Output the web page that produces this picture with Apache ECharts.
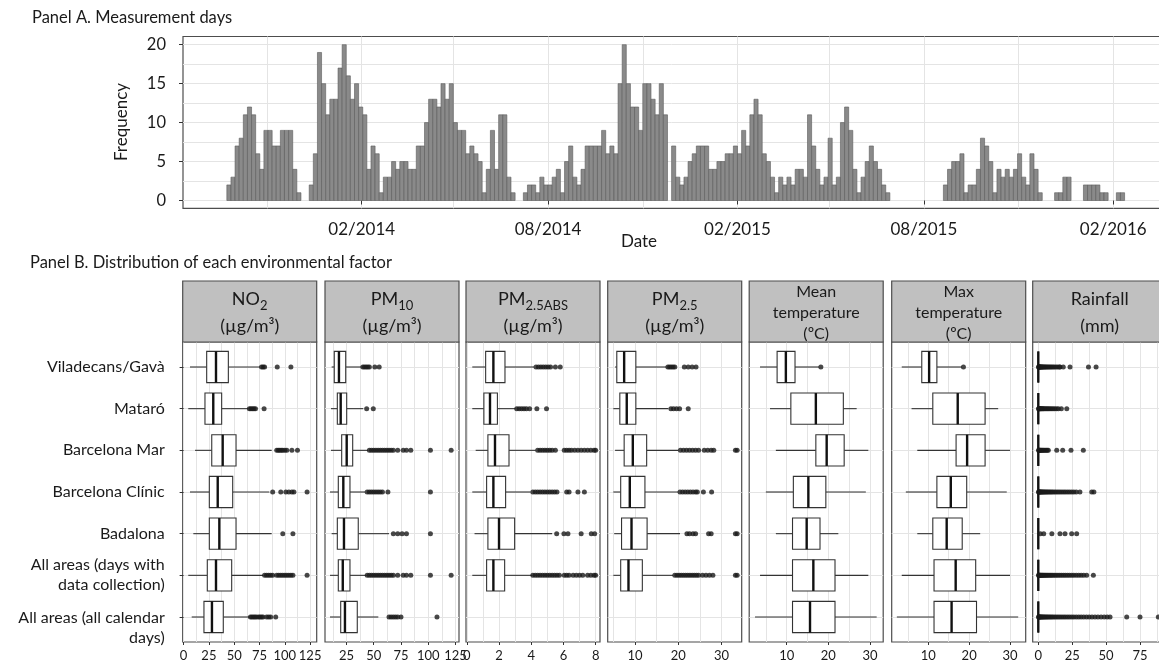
<!DOCTYPE html>
<html><head><meta charset="utf-8">
<script src="https://cdn.jsdelivr.net/npm/echarts@6/dist/echarts.min.js"></script>
<style>html,body{margin:0;padding:0;background:#fff}#c{width:1159px;height:665px}</style>
</head><body><div id="c"></div>
<script>
const FONT = 'Lato';
// ---------------- Panel A data ----------------
const histStart = Date.UTC(2013, 8, 23);
const histBinDays = 4;
const histCounts = [
 2,3,7,8,11,12,11,6,4,9,
 9,7,7,9,9,9,4,1,0,0,
 2,6,19,15,11,13,13,17,20,16,
 13,15,12,11,4,7,6,1,3,3,
 5,4,5,5,4,4,7,7,10,13,
 13,12,15,13,15,10,9,9,6,7,
 6,5,1,4,9,4,11,11,3,1,
 0,0,1,2,2,1,3,2,2,3,
 4,1,5,7,3,2,4,7,7,7,
 7,9,6,7,6,15,20,15,12,12,
 9,15,15,13,11,15,11,0,7,3,
 2,3,5,6,7,7,7,4,4,5,
 5,6,6,7,6,9,7,11,13,11,
 6,5,3,1,3,2,3,2,4,4,
 3,11,7,4,2,3,8,2,3,10,
 12,9,4,1,3,5,7,5,4,2,
 1,0,0,0,0,0,0,0,0,0,
 0,0,0,0,2,4,5,5,6,1,
 2,2,4,8,7,5,1,4,3,4,
 3,4,6,3,2,6,4,1,0,0,
 0,1,1,3,3,0,0,0,2,2,
 2,2,1,1,0,0,1,1
];
const dateTicks = ['2014-02-01','2014-08-01','2015-02-01','2015-08-01','2016-02-01'];
const dateLines = ['2013-11-01','2014-02-01','2014-05-01','2014-08-01','2014-11-01','2015-02-01','2015-05-01','2015-08-01','2015-11-01','2016-02-01'];
const freqTicks = [0,5,10,15,20];
const freqLines = [0,2.5,5,7.5,10,12.5,15,17.5,20];

// ---------------- Panel B data ----------------
const areas = ['Viladecans/Gavà','Mataró','Barcelona Mar','Barcelona Clínic','Badalona','All areas (days with\ndata collection)','All areas (all calendar\ndays)'];
// each row: [lowerWhisker, Q1, median, Q3, upperWhisker]
const no2Stats = [[6.3,22.8,32,44.2,75.5],[4.6,21.1,29.3,37.6,63.9],[11.3,27.8,38.6,51.8,87],[6.3,25.4,33.7,48.5,84.7],[9.6,25.4,35.3,51.8,87],[4.6,23.4,32,47.5,78.8],[8,20.1,28,39.2,65.6]];
const no2Out = [[77,78.5,80,92.5,106],[65,66.5,68,69.5,71,79.5],[92,93.5,95,96.5,98,100,102,107,112.5],[88,96,101,104,107,109,122],[98,108],[80,82,84,86,88,92,94,96,98,100,102,104,106,108,122],[66,67.5,69,70.5,72,74,75.5,77,78.5,82,84,86,91]];
const pm10Stats = [[11.4,13.8,18.1,24.3,39],[10.8,16.6,19.7,25.2,40.4],[10.8,20.6,25.2,30.7,45],[9.9,17.5,22.1,28.2,42],[11.4,16.6,22.7,35.8,64],[9.9,17.5,21.6,28.2,43.5],[9.9,19.7,23.6,34.9,54.2]];
const pm10Out = [[40,41.5,43,44.5,46,51,55],[43.5,49.6],[46,48,50,52,54,56,58,60,62,64,66,68,72,77,80,84,102,121],[44,46,48,50,52,54,56,58,63,102],[68,72,76,80,102],[44,46,48,50,52,54,56,58,60,62,64,66,68,72,77,80,84,102,121],[64,66,68,70,72,75,108]];
const absStats = [[0.34,1.17,1.65,2.37,4.17],[0.34,1.06,1.44,1.9,3.03],[0.55,1.31,1.75,2.62,4.27],[0.34,1.23,1.65,2.41,3.96],[0.48,1.31,2.0,2.97,5.3],[0.34,1.23,1.65,2.35,4.07],null];
const absOut = [[4.3,4.45,4.6,4.75,4.9,5.05,5.2,5.5,5.8],[3.1,3.25,3.4,3.55,3.7,3.9,4.35,4.95],[4.4,4.55,4.7,4.85,5.0,5.15,5.3,5.5,6.05,6.2,6.35,6.5,6.7,6.9,7.1,7.3,7.5,7.7,7.9,8.0],[4.1,4.25,4.4,4.55,4.7,4.85,5.0,5.15,5.3,5.45,5.6,6.2,6.35,6.9,7.3],[5.58,6.03,6.28,7.1,7.73,7.94],[4.1,4.25,4.4,4.55,4.7,4.85,5.0,5.15,5.3,5.45,5.6,5.75,6.05,6.2,6.35,6.6,6.8,7.0,7.2,7.5,7.7,7.9,8.0],[]];
const pm25Stats = [[5.4,5.8,7.5,10.2,17.3],[5,6.5,8.1,10.2,17.7],[5.4,7.5,9.5,12.7,20],[5,6.7,8.8,12.3,20],[5.2,6.9,9.2,12.8,20.4],[5,6.7,8.5,11.7,18.8],null];
const pm25Out = [[17.6,18,18.4,18.8,19.2,21.4,22.3,23.2,24.1],[18.3,18.9,19.6,20.3,22.3],[20.5,21.2,21.9,22.6,23.3,24,24.7,26,26.8,27.6,28.2,33.2,33.6],[20.4,21,21.6,22.2,22.8,23.4,24,24.4,25.8,27.7],[22,22.6,23.4,24,27,27.6,33.2,33.6],[19.2,19.7,20.2,20.7,21.2,21.7,22.2,22.7,23.2,23.7,24.2,24.7,25.6,26.4,27.2,28,33.2,33.6],[]];
const tmeanStats = [[3.6,7.7,9.8,12,17.8],[6,11,17,23.6,26.8],[7.4,17,19.6,23.8,29.6],[5,11.6,15.2,19.4,29],[7.4,11.4,14.8,18,22.4],[3.6,11.4,16.4,21.6,29.6],[2.4,11.4,15.6,21.6,31.6]];
const tmeanOut = [[18.2],[],[],[],[],[],[]];
const tmaxStats = [[3.5,8.4,10.2,12.1,18.2],[5.9,11.1,17.2,23.9,27.1],[7.3,16.8,19.5,23.9,30],[4.5,12.1,15.5,19.4,29.2],[7.3,11.1,14.5,18.3,22.7],[3.5,11.4,16.7,21.6,30],[2.3,11.4,15.7,21.8,32]];
const tmaxOut = [[18.6],[],[],[],[],[],[]];
const rainStats = [[0,0,0,0,0],[0,0,0,0,0],[0,0,0,0,0],[0,0,0,0,0],[0,0,0,0,0],[0,0,0,0,0],[0,0,0,0,0]];
const rainOut = [
 [0.2,0.4,0.6,0.8,1,1.3,1.6,2,2.4,2.8,3.3,3.8,4.4,5,5.7,6.4,7.2,8,8.9,9.8,10.8,11.8,13,14.2,15.5,16,18.4,23.4,37,42.6],
 [0.2,0.4,0.6,0.9,1.2,1.6,2,2.5,3,3.6,4.2,5,5.8,6.7,7.6,8.6,9.6,10.8,12,13.4,14.8,17,21],
 [0.2,0.5,0.8,1.2,1.7,2.2,2.8,3.5,4.2,5,5.8,6.6,7.4,13.6,18,24.1,33.2],
 [0.2,0.4,0.7,1,1.4,1.8,2.3,2.8,3.4,4,4.7,5.4,6.2,7,7.9,8.8,9.8,10.8,12,13.2,14.5,15.8,17.2,18.6,20,21.5,23,24.6,26.2,28,30.7,39.4,41],
 [1.5,4,10,16,19.7,24.6,28.3],
 [0.2,0.4,0.7,1,1.4,1.8,2.3,2.8,3.4,4,4.7,5.4,6.2,7,7.9,8.8,9.8,10.8,12,13.2,14.5,15.8,17.2,18.6,20,21.5,23,24.6,26.2,28,29.8,31.6,33.5,35.7,40.6],
 [0.2,0.4,0.7,1,1.4,1.8,2.3,2.8,3.4,4,4.7,5.4,6.2,7,7.9,8.8,9.8,10.8,12,13.2,14.5,15.8,17.2,18.6,20,21.5,23,24.6,26.2,28,29.8,31.6,33.5,35.5,37.5,39.6,41.8,44,46.3,48.6,50.8,52.9,65.2,75,88.5]
];
const no2Ticks = [0,25,50,75,100,125], no2Lines = [0,12.5,25,37.5,50,62.5,75,87.5,100,112.5,125];
const pm10Ticks = [25,50,75,100,125], pm10Lines = [12.5,25,37.5,50,62.5,75,87.5,100,112.5,125];
const absTicks = [0,2,4,6,8], absLines = [0,1,2,3,4,5,6,7,8];
const pm25Ticks = [10,20,30], pm25Lines = [5,10,15,20,25,30];
const tempTicks = [10,20,30], tempLines = [5,10,15,20,25,30];
const rainTicks = [0,25,50,75], rainLines = [0,12.5,25,37.5,50,62.5,75,87.5];
const headers = [
 '{b|NO}{s|2}\n{b|(µg/m³)}',
 '{b|PM}{s|10}\n{b|(µg/m³)}',
 '{b|PM}{s|2.5ABS}\n{b|(µg/m³)}',
 '{b|PM}{s|2.5}\n{b|(µg/m³)}',
 '{m|Mean}\n{m|temperature}\n{m|(ºC)}',
 '{m|Max}\n{m|temperature}\n{m|(ºC)}',
 '{b|Rainfall}\n{b|(mm)}'
];

// ---------------- layout ----------------
const factors = [
 {stats:no2Stats, out:no2Out, ticks:no2Ticks, lines:no2Lines, min:-0.9, max:131.5},
 {stats:pm10Stats, out:pm10Out, ticks:pm10Ticks, lines:pm10Lines, min:5.3, max:128.2},
 {stats:absStats, out:absOut, ticks:absTicks, lines:absLines, min:-0.05, max:8.27},
 {stats:pm25Stats, out:pm25Out, ticks:pm25Ticks, lines:pm25Lines, min:3.7, max:34.65},
 {stats:tmeanStats, out:tmeanOut, ticks:tempTicks, lines:tempLines, min:1.0, max:33.17},
 {stats:tmaxStats, out:tmaxOut, ticks:tempTicks, lines:tempLines, min:1.04, max:33.84},
 {stats:rainStats, out:rainOut, ticks:rainTicks, lines:rainLines, min:-4.13, max:94.69}
];
const PANEL_LEFT = [182.7, 325, 466, 607.7, 749.2, 891.7, 1032.7];
const PANEL_W = 134, PANEL_TOP = 342, PANEL_H = 300, STRIP_TOP = 281, STRIP_H = 61;
const BORDER = '#4d4d4d', GRIDC = '#e4e4e4', TXT = '#1a1a1a', TICKC = '#333';
// label anchor rows for the area names (last, two-line label hangs below its row)
const areaLabelAt = [1,2,3,4,5,6,7.25];

const DAY = 86400000;
const xMinA = Date.UTC(2013, 7, 11, 10), xMaxA = Date.UTC(2016, 2, 23, 5);
const toMs = s => Date.parse(s + 'T00:00:00Z');
const fmtMonth = v => { const d = new Date(v); return String(d.getUTCMonth() + 1).padStart(2, '0') + '/' + d.getUTCFullYear(); };

const grids = [{left:183, top:36.5, width:983, height:171.8, show:true, borderColor:BORDER, borderWidth:1.2, backgroundColor:'#fff', outerBoundsMode:'none', containLabel:false}];
PANEL_LEFT.forEach(l => grids.push({left:l, top:PANEL_TOP, width:PANEL_W, height:PANEL_H, show:true, borderColor:BORDER, borderWidth:1.2, backgroundColor:'#fff', outerBoundsMode:'none', containLabel:false}));

const xAxes = [
 {type:'value', gridIndex:0, position:'bottom', min:xMinA, max:xMaxA, axisLine:{show:false},
  axisTick:{show:false, customValues:dateLines.map(toMs)}, axisLabel:{show:false, customValues:dateLines.map(toMs)},
  splitLine:{show:true, lineStyle:{color:GRIDC, width:1}}},
 {type:'value', gridIndex:0, position:'bottom', min:xMinA, max:xMaxA, axisLine:{show:false},
  axisTick:{show:true, length:4, customValues:dateTicks.map(toMs), lineStyle:{color:TICKC}},
  axisLabel:{customValues:dateTicks.map(toMs), formatter:fmtMonth, fontSize:17, fontFamily:FONT, color:TXT, margin:13, hideOverlap:false},
  splitLine:{show:false}}
];
const yAxes = [
 {type:'value', gridIndex:0, position:'left', min:-1.0, max:21.05, axisLine:{show:false},
  axisTick:{show:false, customValues:freqLines}, axisLabel:{show:false, customValues:freqLines},
  splitLine:{show:true, lineStyle:{color:GRIDC, width:1}}},
 {type:'value', gridIndex:0, position:'left', min:-1.0, max:21.05, axisLine:{show:false},
  axisTick:{show:true, length:4, customValues:freqTicks, lineStyle:{color:TICKC}},
  axisLabel:{customValues:freqTicks, fontSize:16.5, fontFamily:FONT, color:TXT, margin:17},
  splitLine:{show:false}}
];

const series = [];
// histogram bars
const histData = [];
histCounts.forEach((c, i) => {
  if (c > 0) histData.push([histStart + i * histBinDays * DAY, histStart + (i + 1) * histBinDays * DAY, c]);
});
series.push({
  type:'custom', xAxisIndex:1, yAxisIndex:1, data:histData, encode:{x:[0,1], y:2}, clip:true,
  renderItem:(params, api) => {
    const p0 = api.coord([api.value(0), 0]);
    const p1 = api.coord([api.value(1), api.value(2)]);
    return {type:'rect', shape:{x:p0[0], y:p1[1], width:p1[0]-p0[0], height:p0[1]-p1[1]},
      style:{fill:'#8a8a8a', stroke:'#5a5a5a', lineWidth:0.6}};
  }
});

const rowVals = [1,2,3,4,5,6,7];
factors.forEach((f, k) => {
  const gi = k + 1;
  xAxes.push({type:'value', gridIndex:gi, position:'bottom', min:f.min, max:f.max, axisLine:{show:false},
    axisTick:{show:false, customValues:f.lines}, axisLabel:{show:false, customValues:f.lines},
    splitLine:{show:true, lineStyle:{color:GRIDC, width:1}}});
  xAxes.push({type:'value', gridIndex:gi, position:'bottom', min:f.min, max:f.max, axisLine:{show:false},
    axisTick:{show:true, length:3, customValues:f.ticks, lineStyle:{color:TICKC}},
    axisLabel:{customValues:f.ticks, fontSize:13, fontFamily:FONT, color:TXT, margin:7, hideOverlap:false},
    splitLine:{show:false}});
  yAxes.push({type:'value', gridIndex:gi, position:'left', inverse:true, min:0.4, max:7.6, axisLine:{show:false},
    axisTick:{show:k === 0, length:4, customValues:rowVals, lineStyle:{color:TICKC}},
    axisLabel:{show:false, customValues:rowVals},
    splitLine:{show:true, lineStyle:{color:GRIDC, width:1}}});
  const xi = 2 + 2 * k + 1, yi = 2 + k;
  const boxData = [];
  f.stats.forEach((s, r) => { if (s) boxData.push([r + 1].concat(s)); });
  series.push({
    type:'custom', xAxisIndex:xi, yAxisIndex:yi, data:boxData, encode:{x:[1,2,3,4,5], y:0}, z:3,
    renderItem:(params, api) => {
      const row = api.value(0);
      const lo = api.coord([api.value(1), row]), q1 = api.coord([api.value(2), row]),
            md = api.coord([api.value(3), row]), q3 = api.coord([api.value(4), row]),
            hi = api.coord([api.value(5), row]);
      const h = Math.abs(api.coord([api.value(3), row + 0.375])[1] - md[1]);
      const ls = {stroke:'#333', lineWidth:1.1};
      return {type:'group', children:[
        {type:'line', shape:{x1:lo[0], y1:lo[1], x2:q1[0], y2:q1[1]}, style:ls},
        {type:'line', shape:{x1:q3[0], y1:q3[1], x2:hi[0], y2:hi[1]}, style:ls},
        {type:'rect', shape:{x:q1[0], y:q1[1]-h, width:q3[0]-q1[0], height:2*h}, style:{fill:'#fff', stroke:'#333', lineWidth:1.1}},
        {type:'line', shape:{x1:md[0], y1:md[1]-h, x2:md[0], y2:md[1]+h}, style:{stroke:'#111', lineWidth:2.4}}
      ]};
    }
  });
  const outData = [];
  f.out.forEach((arr, r) => arr.forEach(v => outData.push([v, r + 1])));
  series.push({type:'scatter', xAxisIndex:xi, yAxisIndex:yi, data:outData, symbol:'circle', symbolSize:5,
    itemStyle:{color:'#1a1a1a'}, z:4, silent:true});
});
// label-only axis for the area names on the first panel
yAxes.push({type:'value', gridIndex:1, position:'left', inverse:true, min:0.4, max:7.6, axisLine:{show:false},
  axisTick:{show:false, customValues:areaLabelAt},
  axisLabel:{show:true, customValues:areaLabelAt, hideOverlap:false, showMinLabel:true, showMaxLabel:true,
    formatter:v => areas[Math.round(v) - 1],
    fontSize:16, fontFamily:FONT, color:TXT, margin:18, lineHeight:20, align:'right'},
  splitLine:{show:false}});

// ---------------- text & strips ----------------
const graphic = [
  {type:'text', x:32, y:18, style:{text:'Panel A. Measurement days', fontFamily:FONT, fontSize:16.5, fill:TXT, align:'left', verticalAlign:'middle'}},
  {type:'text', x:122, y:122, rotation:Math.PI/2, style:{text:'Frequency', fontFamily:FONT, fontSize:17, fill:TXT, align:'center', verticalAlign:'middle'}},
  {type:'text', x:639, y:242, style:{text:'Date', fontFamily:FONT, fontSize:17, fill:TXT, align:'center', verticalAlign:'middle'}},
  {type:'text', x:30, y:263, style:{text:'Panel B. Distribution of each environmental factor', fontFamily:FONT, fontSize:16.5, fill:TXT, align:'left', verticalAlign:'middle'}}
];
const rich = {
  b:{fontFamily:FONT, fontSize:18, fill:TXT, lineHeight:27},
  s:{fontFamily:FONT, fontSize:13, fill:TXT, lineHeight:23, verticalAlign:'bottom'},
  m:{fontFamily:FONT, fontSize:16, fill:TXT, lineHeight:21}
};
PANEL_LEFT.forEach((l, k) => {
  graphic.push({type:'rect', shape:{x:l, y:STRIP_TOP, width:PANEL_W, height:STRIP_H}, style:{fill:'#c0c0c0', stroke:BORDER, lineWidth:1.2}, z:1});
  graphic.push({type:'text', x:l + PANEL_W / 2, y:STRIP_TOP + STRIP_H / 2 + 1, z:2,
    style:{text:headers[k], rich:rich, fontFamily:FONT, fontSize:18, fill:TXT, align:'center', verticalAlign:'middle'}});
});

const chart = echarts.init(document.getElementById('c'), null, {renderer:'canvas'});
chart.setOption({
  animation:false,
  backgroundColor:'#fff',
  textStyle:{fontFamily:FONT},
  grid:grids, xAxis:xAxes, yAxis:yAxes, series:series, graphic:graphic
});
</script></body></html>
